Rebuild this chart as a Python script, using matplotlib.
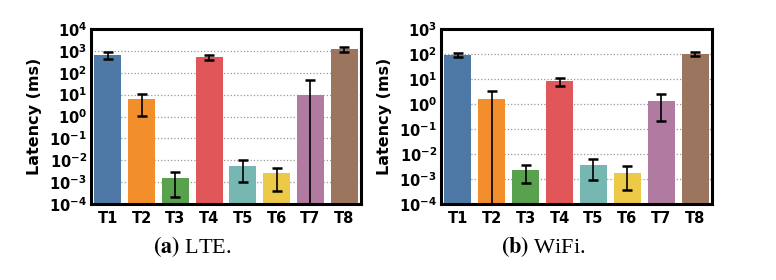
import numpy as np
import matplotlib
matplotlib.use("Agg")
import matplotlib.pyplot as plt
from matplotlib.ticker import FixedLocator, FixedFormatter, NullLocator

tasks = ["T1", "T2", "T3", "T4", "T5", "T6", "T7", "T8"]
colors = ["#4e79a7", "#f28e2b", "#59a14f", "#e15759",
          "#76b7b2", "#edc948", "#b07aa1", "#9c755f"]

# LTE latency (ms): mean, lower and upper ends of the error bars
lte_mean = [665, 6.4, 0.0015, 540, 0.0055, 0.0026, 9.8, 1260]
lte_low = [425, 1.1, 0.00021, 380, 0.00098, 0.00041, 0.0001, 910]
lte_high = [890, 10.5, 0.0028, 645, 0.010, 0.0046, 48, 1450]

# WiFi latency (ms)
wifi_mean = [93, 1.6, 0.0023, 8.5, 0.0036, 0.0017, 1.35, 102]
wifi_low = [78, 0.0001, 0.00071, 5.1, 0.00089, 0.00035, 0.21, 81]
wifi_high = [107, 3.2, 0.0038, 10.5, 0.0066, 0.0032, 2.5, 118]

plt.rcParams["font.family"] = "DejaVu Sans"
plt.rcParams["font.weight"] = "bold"


def draw(ax, mean, low, high, top_exp):
    x = np.arange(len(tasks))
    mean = np.array(mean)
    yerr = [mean - np.array(low), np.array(high) - mean]
    ax.bar(x, mean, width=0.8, color=colors, zorder=2)
    ax.errorbar(x, mean, yerr=yerr, fmt="none", ecolor="black",
                elinewidth=1.2, capsize=3.5, capthick=1.8, zorder=3)
    ax.set_yscale("log")
    ax.set_ylim(1e-4, 10.0 ** top_exp)
    ax.set_xlim(-0.5, len(tasks) - 0.5)
    exps = list(range(-4, top_exp + 1))
    ax.yaxis.set_major_locator(FixedLocator([10.0 ** e for e in exps]))
    ax.yaxis.set_major_formatter(FixedFormatter(
        [r"$\mathbf{10^{%d}}$" % e for e in exps]))
    ax.yaxis.set_minor_locator(NullLocator())
    ax.set_xticks(x)
    ax.set_xticklabels(tasks, fontsize=10.5, fontweight="bold")
    ax.tick_params(axis="y", labelsize=10.5, length=0, pad=3)
    ax.tick_params(axis="x", length=0, pad=5)
    ax.grid(axis="y", linestyle=":", color="#999999", linewidth=0.9, zorder=0)
    ax.set_axisbelow(True)
    for s in ax.spines.values():
        s.set_linewidth(2.2)
    ax.set_ylabel("Latency (ms)", fontsize=11.5, fontweight="bold", labelpad=5)


fig = plt.figure(figsize=(7.76, 2.8), dpi=100)
ax1 = fig.add_axes([91 / 776, 1 - 204 / 280, 270 / 776, 175 / 280])
ax2 = fig.add_axes([441 / 776, 1 - 204 / 280, 271 / 776, 175 / 280])
draw(ax1, lte_mean, lte_low, lte_high, 4)
draw(ax2, wifi_mean, wifi_low, wifi_high, 3)

fig.text(192 / 776, 1 - 247 / 280, r"$\mathbf{(a)}$ LTE.", ha="center", va="center",
         fontsize=16, family="Liberation Serif", fontweight="normal",
         math_fontfamily="stix")
fig.text(543 / 776, 1 - 247 / 280, r"$\mathbf{(b)}$ WiFi.", ha="center", va="center",
         fontsize=16, family="Liberation Serif", fontweight="normal",
         math_fontfamily="stix")

fig.savefig("out.png", dpi=100)
